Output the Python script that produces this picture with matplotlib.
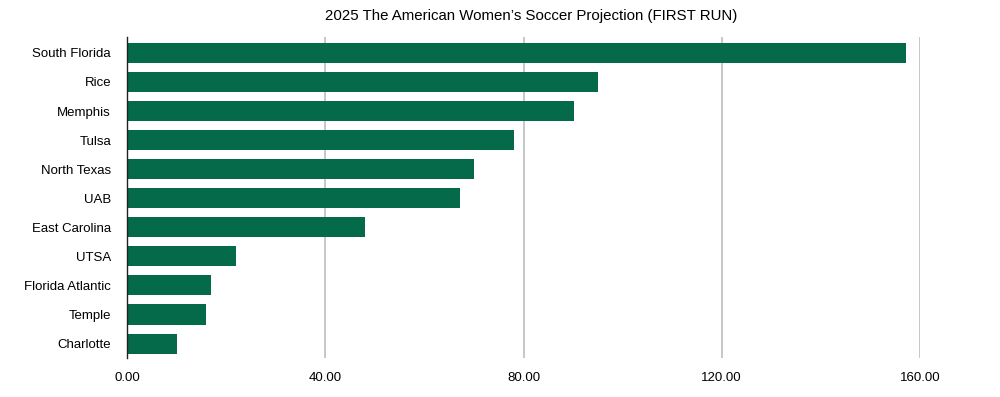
import matplotlib
matplotlib.use('Agg')
import matplotlib.pyplot as plt

# ── data ──────────────────────────────────────────────────────────────────────
teams = ['South Florida', 'Rice', 'Memphis', 'Tulsa', 'North Texas', 'UAB',
         'East Carolina', 'UTSA', 'Florida Atlantic', 'Temple', 'Charlotte']
values = [157.2, 95.0, 90.1, 78.0, 70.0, 67.2, 48.0, 22.0, 17.0, 16.0, 10.0]
xticks = [0, 40, 80, 120, 160]

BAR = '#046A4A'
GRID = '#BDBDBD'

plt.rcParams['font.family'] = ['Liberation Sans', 'DejaVu Sans']

fig = plt.figure(figsize=(10, 3.97), dpi=100)
ax = fig.add_axes([0.127, 0.098, 0.793, 0.809])

ax.barh(range(len(teams)), values, height=0.69, color=BAR, zorder=3)

ax.set_xlim(0, 160)
ax.set_ylim(len(teams) - 0.5, -0.55)
ax.set_yticks(range(len(teams)))
ax.set_yticklabels(teams, fontsize=9.5)
ax.set_xticks(xticks)
ax.set_xticklabels([f'{v:.2f}' for v in xticks], fontsize=9.5)

ax.grid(axis='x', color=GRID, lw=1.2, zorder=0)
ax.tick_params(length=0)
ax.tick_params(axis='y', pad=11.5)
ax.tick_params(axis='x', pad=10)
for s in ['top', 'right', 'bottom']:
    ax.spines[s].set_visible(False)
ax.spines['left'].set_color('#222222')
ax.spines['left'].set_linewidth(1.0)
ax.spines['left'].set_zorder(4)

fig.suptitle('2025 The American Women\u2019s Soccer Projection (FIRST RUN)',
             x=0.531, y=0.978, fontsize=10.8)

plt.savefig('out.png', dpi=100)
